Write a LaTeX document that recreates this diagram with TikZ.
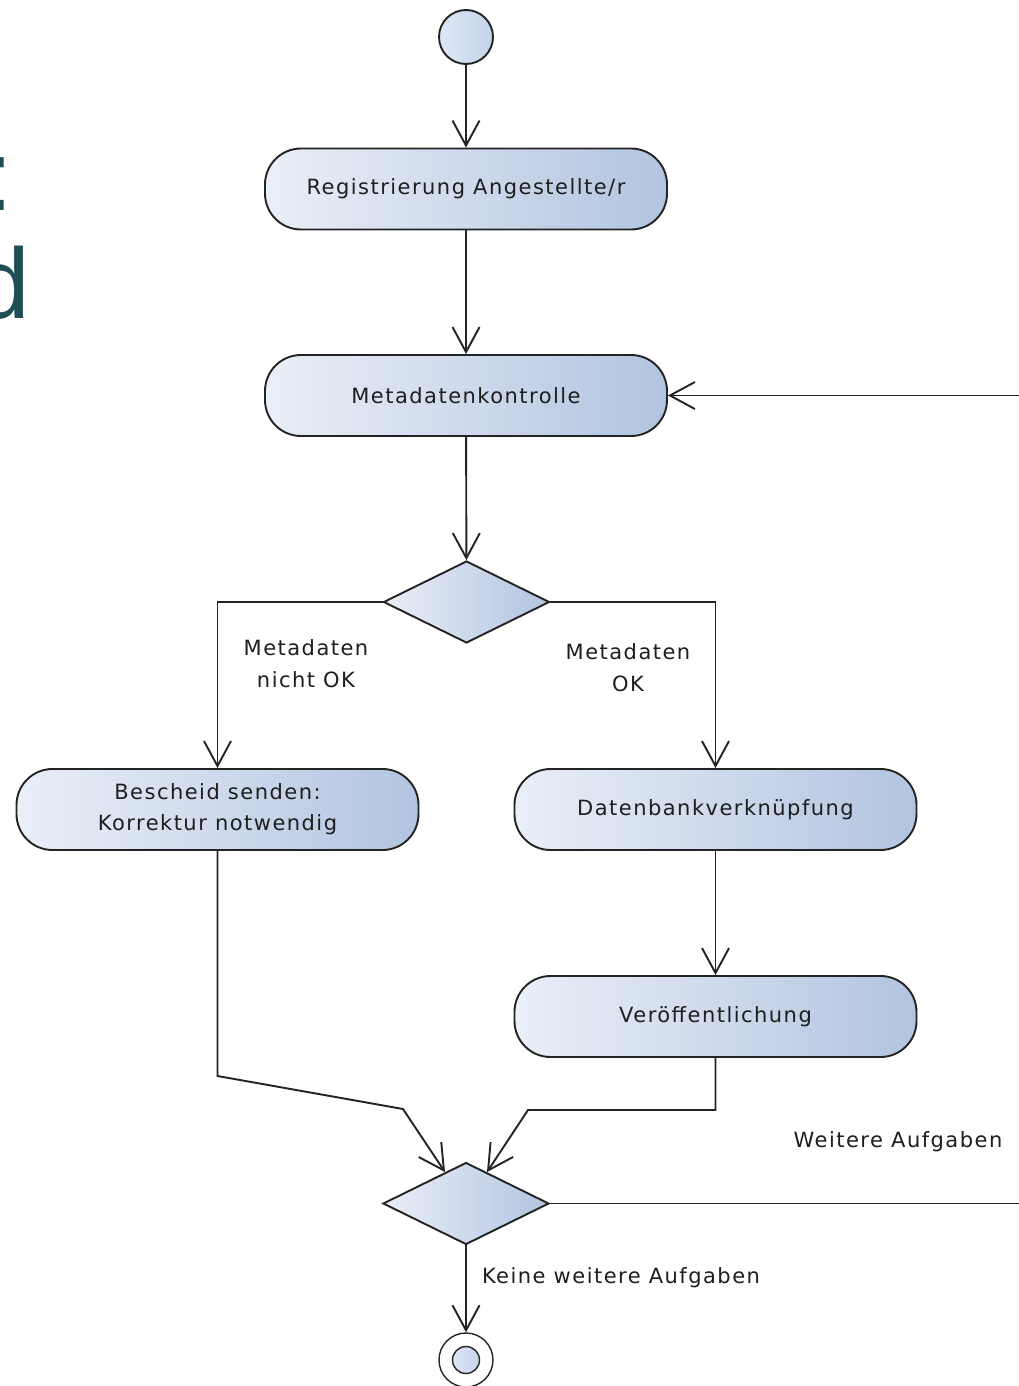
\documentclass[tikz,border=0pt]{standalone}
\usepackage{fontspec}
\setmainfont{DejaVu Sans}
\newfontfamily\labelfont[LetterSpace=7]{DejaVu Sans}
\newfontfamily\titlefont{Liberation Sans}
\usetikzlibrary{arrows.meta,shapes.geometric,calc}

\definecolor{edge}{RGB}{35,35,35}
\definecolor{txt}{RGB}{30,30,30}
\definecolor{fillL}{RGB}{234,239,248}
\definecolor{fillR}{RGB}{178,196,224}
\definecolor{startL}{RGB}{222,231,245}
\definecolor{startR}{RGB}{196,210,234}
\definecolor{titleteal}{RGB}{31,78,84}

\tikzset{
  act/.style={draw=edge, line width=1.9pt, rounded corners=36pt,
    left color=fillL, right color=fillR,
    minimum width=402pt, minimum height=81pt, inner sep=0pt,
    font=\labelfont\fontsize{21}{31}\selectfont, text=txt, align=center},
  decision/.style={diamond, draw=edge, line width=1.9pt,
    left color=fillL, right color=fillR,
    minimum width=166pt, minimum height=82pt, inner sep=0pt},
  flow/.style={draw=edge, line width=1.9pt,
    -{Straight Barb[length=25pt,width=27pt]}},
  lbl/.style={font=\labelfont\fontsize{21}{32}\selectfont, text=txt,
    align=center, inner sep=0pt},
  title/.style={anchor=base east, inner sep=0pt, text=titleteal,
    font=\titlefont\fontsize{100}{100}\selectfont}
}

\begin{document}
\begin{tikzpicture}[x=1pt,y=-1pt]
  \useasboundingbox (0,0) rectangle (1019,1386);
  \fill[white] (0,0) rectangle (1019,1386);
  \clip (0,0) rectangle (1019,1386);

  % heading letters cut off at the left margin
  \node[title] (h1) at (13,210) {:};
  \node[title] (h2) at (30,318) {d};

  % start and end nodes
  \node[circle, draw=edge, line width=1.9pt, minimum size=54pt, inner sep=0pt,
        left color=startL, right color=startR] (start) at (466,37) {};
  \node[circle, draw=edge, line width=1.4pt, minimum size=54pt, inner sep=0pt,
        fill=white] (end) at (466,1360) {};
  \node[circle, draw=edge, line width=1.4pt, minimum size=27pt, inner sep=0pt,
        left color=startL, right color=startR] (endcore) at (end.center) {};

  % activities
  \node[act] (reg) at (466,189) {Registrierung Angestellte/r};
  \node[act] (meta) at (466,395.5) {Metadatenkontrolle};
  \node[act] (besch) at (217.5,809.5) {Bescheid senden:\\Korrektur notwendig};
  \node[act] (db) at (715.5,809.5) {Datenbankverknüpfung};
  \node[act] (pub) at (715.5,1016.5) {Veröffentlichung};

  % decisions
  \node[decision] (d1) at (466.5,602) {};
  \node[decision] (d2) at (466,1203.5) {};

  % guard labels
  \node[lbl] (lnok) at (306,664) {Metadaten\\nicht OK};
  \node[lbl] (lok) at (628,668) {Metadaten\\OK};
  \node[lbl] (lwa) at (898,1142) {Weitere Aufgaben};
  \node[lbl] (lkwa) at (621,1278) {Keine weitere Aufgaben};

  % bend points of the merging flows
  \coordinate (bl1) at (217.5,1076);
  \coordinate (bl2) at (403,1109);
  \coordinate (br1) at (715.5,1110);
  \coordinate (br2) at (528,1110);

  % flows
  \draw[flow] (start) -- (reg);
  \draw[flow] (reg) -- (meta);
  \draw[flow] (meta) -- (d1);
  \draw[flow] (d1.west) -| (besch.north);
  \draw[flow] (d1.east) -| (db.north);
  \draw[flow] (db) -- (pub);
  \draw[flow] (besch.south) -- (bl1) -- (bl2) -- ($(d2.north)!0.25!(d2.west)$);
  \draw[flow] (pub.south) -- (br1) -- (br2) -- ($(d2.north)!0.25!(d2.east)$);
  \draw[flow] (d2.east) -- ++(600,0) |- (meta.east);
  \draw[flow] (d2.south) -- (end);
\end{tikzpicture}
\end{document}
